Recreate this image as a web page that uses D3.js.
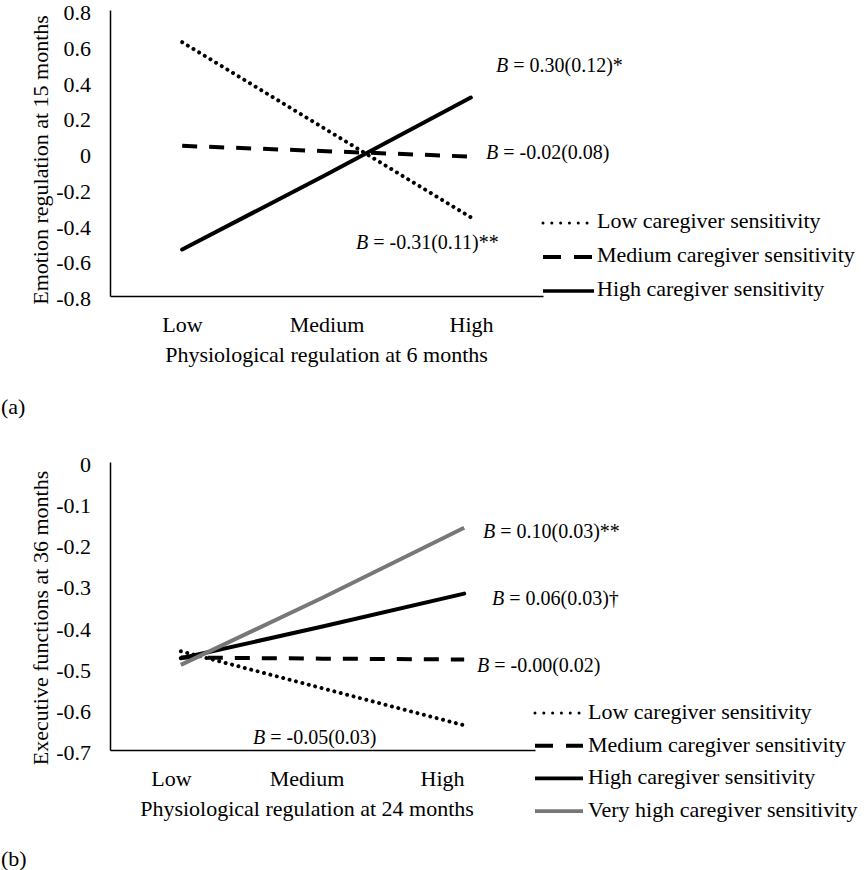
<!DOCTYPE html>
<html>
<head>
<meta charset="utf-8">
<script src="https://cdn.jsdelivr.net/npm/d3@7"></script>
<style>
  html, body { margin: 0; padding: 0; background: #fff; }
  svg, svg text { font-family: "Liberation Serif", "DejaVu Serif", "Noto Serif", "Times New Roman", Times, serif; }
</style>
</head>
<body>
<svg id="chart" width="867" height="870"></svg>
<script>
// ---------------- DATA ----------------
const categories = ["Low", "Medium", "High"];

// Panel (a): Emotion regulation at 15 months
const aYTicks = [0.8, 0.6, 0.4, 0.2, 0, -0.2, -0.4, -0.6, -0.8];
const aLowSens = [0.62, 0.13, -0.36];
const aMediumSens = [0.04, 0.01, -0.02];
const aHighSens = [-0.54, -0.12, 0.31];
const aSeriesNames = ["Low caregiver sensitivity", "Medium caregiver sensitivity", "High caregiver sensitivity"];
const aAnnotations = ["0.30(0.12)*", "-0.02(0.08)", "-0.31(0.11)**"];

// Panel (b): Executive functions at 36 months
const bYTicks = [0, -0.1, -0.2, -0.3, -0.4, -0.5, -0.6, -0.7];
const bLowSens = [-0.46, -0.55, -0.64];
const bMediumSens = [-0.475, -0.478, -0.48];
const bHighSens = [-0.477, -0.40, -0.32];
const bVeryHighSens = [-0.493, -0.33, -0.16];
const bSeriesNames = ["Low caregiver sensitivity", "Medium caregiver sensitivity", "High caregiver sensitivity", "Very high caregiver sensitivity"];
const bAnnotations = ["0.10(0.03)**", "0.06(0.03)\u2020", "-0.00(0.02)", "-0.05(0.03)"];

// ---------------- STYLES ----------------
const FONTFAM = '"Liberation Serif", "DejaVu Serif", "Noto Serif", "Times New Roman", Times, serif';
const styles = {
  low:      { stroke: "#000", width: 4,   dash: "0.01 6.6", cap: "round", legendWidth: 3,   legendDash: "0.01 8.8" },
  medium:   { stroke: "#000", width: 4,   dash: "15 12",    cap: "butt",  legendWidth: 4,   legendDash: "18 13" },
  high:     { stroke: "#000", width: 4,   dash: null,       cap: "round", legendWidth: 3.6, legendDash: null },
  veryhigh: { stroke: "#777", width: 4,   dash: null,       cap: "butt",  legendWidth: 3.6, legendDash: null }
};
const FONT = 22;
const ANNOT_FONT = 20;
const svg = d3.select("#chart").attr("font-family", FONTFAM);

function fmt(d) { return d === 0 ? "0" : d.toFixed(1); }

function drawPanel(cfg) {
  const g = svg.append("g").attr("font-family", FONTFAM);
  const x = d3.scalePoint().domain(categories).range([cfg.x0, cfg.x1]).padding(0.5);
  const y = d3.scaleLinear().domain(cfg.yDomain).range([cfg.yBottom, cfg.yTop]);

  // Y axis
  const ya = g.append("g").attr("transform", `translate(${cfg.x0},0)`)
    .call(d3.axisLeft(y).tickValues(cfg.yTicks).tickSize(0).tickSizeOuter(0).tickPadding(19).tickFormat(fmt));
  ya.attr("font-family", FONTFAM);
  ya.select(".domain").attr("stroke", "#000").attr("stroke-width", 1.5);
  ya.selectAll("text").attr("font-size", FONT).attr("fill", "#000")
    .attr("dy", 2).attr("dominant-baseline", "central");

  // X axis line
  const xa = g.append("g").attr("transform", `translate(0,${cfg.yBottom})`)
    .call(d3.axisBottom(x).tickSize(0).tickSizeOuter(0).tickFormat(""));
  xa.select(".domain").attr("stroke", "#000").attr("stroke-width", 1.5);
  // X tick labels
  const xl = d3.scalePoint().domain(categories).range(cfg.labelRange);
  const xla = g.append("g").attr("transform", `translate(0,${cfg.yBottom})`)
    .call(d3.axisBottom(xl).tickSize(0).tickSizeOuter(0));
  xla.attr("font-family", FONTFAM);
  xla.select(".domain").remove();
  xla.selectAll("text").attr("font-size", FONT).attr("fill", "#000")
    .attr("y", cfg.tickLabelOffset).attr("dy", null).attr("dominant-baseline", "central");

  // Axis titles
  g.append("text").attr("x", cfg.xTitle[0]).attr("y", cfg.xTitle[1])
    .attr("text-anchor", "middle").attr("dominant-baseline", "central")
    .attr("font-size", FONT).text(cfg.xTitleText);
  g.append("text").attr("transform", `translate(${cfg.yTitle[0]},${cfg.yTitle[1]}) rotate(-90)`)
    .attr("text-anchor", "middle").attr("dominant-baseline", "central")
    .attr("font-size", FONT).text(cfg.yTitleText);

  // Lines
  const line = d3.line().x((d, i) => x(categories[i])).y(d => y(d));
  cfg.series.forEach(s => {
    const st = styles[s.style];
    g.append("path").datum(s.values).attr("d", line)
      .attr("fill", "none").attr("stroke", st.stroke).attr("stroke-width", st.width)
      .attr("stroke-linecap", st.cap).attr("stroke-dasharray", st.dash);
  });

  // Annotations
  cfg.annotations.forEach(a => {
    const t = g.append("text").attr("x", a.pos[0]).attr("y", a.pos[1])
      .attr("dominant-baseline", "central").attr("font-size", ANNOT_FONT);
    t.append("tspan").attr("font-style", "italic").text("B");
    t.append("tspan").text(" = " + a.text);
  });

  // Legend
  cfg.series.forEach((s, i) => {
    const st = styles[s.style];
    const yy = cfg.legend.y0 + i * cfg.legend.step;
    g.append("line")
      .attr("x1", cfg.legend.lx0).attr("x2", cfg.legend.lx1)
      .attr("y1", yy + cfg.legend.lineOffset).attr("y2", yy + cfg.legend.lineOffset)
      .attr("stroke", st.stroke).attr("stroke-width", st.legendWidth)
      .attr("stroke-linecap", s.style === "low" ? "round" : "butt")
      .attr("stroke-dasharray", st.legendDash);
    g.append("text").attr("x", cfg.legend.tx).attr("y", yy)
      .attr("dominant-baseline", "central").attr("font-size", FONT).text(s.name);
  });

  // Panel label
  g.append("text").attr("x", 1).attr("y", cfg.panelLabel[1])
    .attr("dominant-baseline", "central").attr("font-size", FONT).text(cfg.panelLabelText);
}

drawPanel({
  x0: 110, x1: 543, yTop: 10, yBottom: 296, yDomain: [-0.8, 0.8], yTicks: aYTicks,
  labelRange: [182, 471], tickLabelOffset: 28,
  xTitle: [326.5, 354], xTitleText: "Physiological regulation at 6 months",
  yTitle: [40, 160], yTitleText: "Emotion regulation at 15 months",
  series: [
    { name: aSeriesNames[0], values: aLowSens, style: "low" },
    { name: aSeriesNames[1], values: aMediumSens, style: "medium" },
    { name: aSeriesNames[2], values: aHighSens, style: "high" }
  ],
  annotations: [
    { text: aAnnotations[0], pos: [496, 65] },
    { text: aAnnotations[1], pos: [486, 152] },
    { text: aAnnotations[2], pos: [356, 242] }
  ],
  legend: { y0: 220, step: 34, lineOffset: 3, lx0: 543, lx1: 594, tx: 597 },
  panelLabel: [1, 406], panelLabelText: "(a)"
});

drawPanel({
  x0: 110, x1: 535, yTop: 462, yBottom: 750, yDomain: [-0.7, 0], yTicks: bYTicks,
  labelRange: [171, 442], tickLabelOffset: 28,
  xTitle: [307, 808], xTitleText: "Physiological regulation at 24 months",
  yTitle: [40, 618], yTitleText: "Executive functions at 36 months",
  series: [
    { name: bSeriesNames[0], values: bLowSens, style: "low" },
    { name: bSeriesNames[1], values: bMediumSens, style: "medium" },
    { name: bSeriesNames[2], values: bHighSens, style: "high" },
    { name: bSeriesNames[3], values: bVeryHighSens, style: "veryhigh" }
  ],
  annotations: [
    { text: bAnnotations[0], pos: [483, 531] },
    { text: bAnnotations[1], pos: [492, 598] },
    { text: bAnnotations[2], pos: [477, 665] },
    { text: bAnnotations[3], pos: [253, 737] }
  ],
  legend: { y0: 711.5, step: 32.7, lineOffset: 1.5, lx0: 535, lx1: 583, tx: 588 },
  panelLabel: [1, 858], panelLabelText: "(b)"
});
</script>
</body>
</html>
